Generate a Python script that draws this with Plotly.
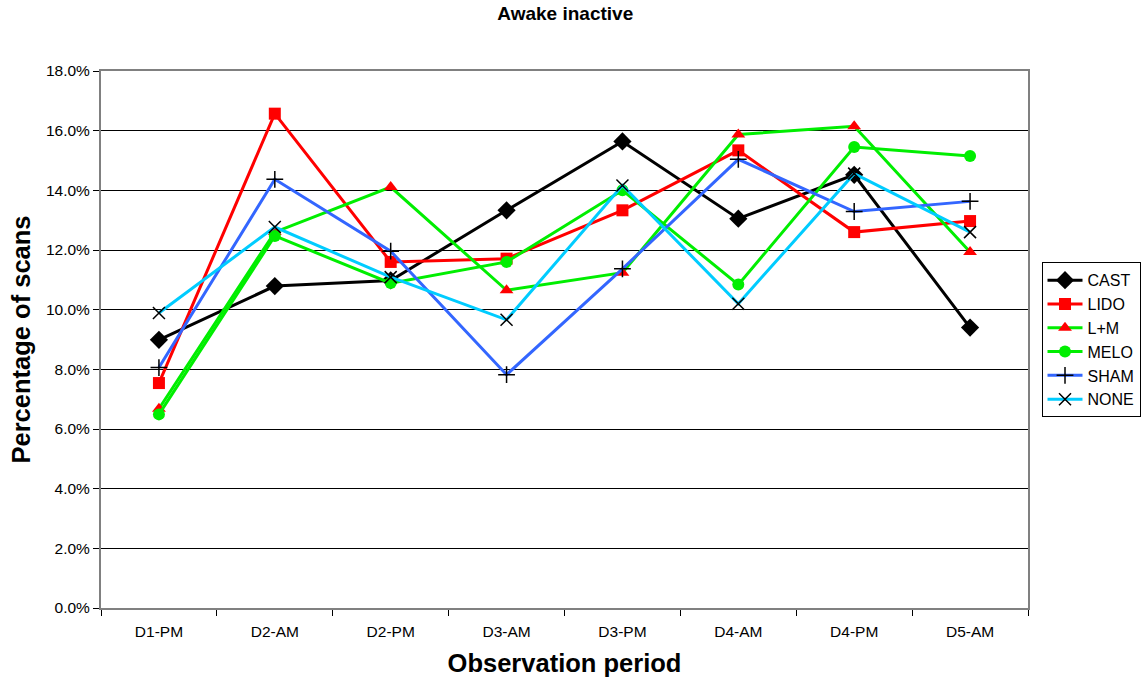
import plotly.graph_objects as go

periods = ["D1-PM", "D2-AM", "D2-PM", "D3-AM", "D3-PM", "D4-AM", "D4-PM", "D5-AM"]

cast = [8.99, 10.79, 10.98, 13.33, 15.64, 13.05, 14.52, 9.40]
lido = [7.54, 16.57, 11.60, 11.71, 13.33, 15.34, 12.60, 12.97]
l_m = [6.68, 12.60, 14.11, 10.65, 11.24, 15.87, 16.15, 11.93]
melo = [6.49, 12.47, 10.89, 11.60, 14.00, 10.84, 15.45, 15.15]
sham = [8.06, 14.37, 11.96, 7.82, 11.37, 15.04, 13.29, 13.63]
none = [9.89, 12.77, 11.09, 9.66, 14.16, 10.20, 14.56, 12.60]

series = [
    ("CAST", cast, "#000000", dict(symbol="diamond", size=14, color="#000000")),
    ("LIDO", lido, "#FF0000", dict(symbol="square", size=12, color="#FF0000")),
    ("L+M", l_m, "#00EE00", dict(symbol="triangle-up", size=12, color="#FF0000")),
    ("MELO", melo, "#00EE00", dict(symbol="circle", size=12, color="#00EE00")),
    ("SHAM", sham, "#3366FF", dict(symbol="cross-thin", size=12, color="#000000",
                                   line=dict(color="#000000", width=1.5))),
    ("NONE", none, "#00CCFF", dict(symbol="x-thin", size=12, color="#000000",
                                   line=dict(color="#000000", width=1.5))),
]

fig = go.Figure()
for name, vals, lc, mk in series:
    fig.add_trace(go.Scatter(
        x=periods, y=[v / 100 for v in vals], name=name, mode="lines+markers",
        line=dict(color=lc, width=3), marker=mk,
    ))

font_family = "Arial, Liberation Sans, sans-serif"

fig.update_layout(
    width=1142, height=683,
    margin=dict(l=101, r=114, t=71, b=75, autoexpand=False),
    paper_bgcolor="white", plot_bgcolor="white",
    font=dict(family=font_family, size=15.5, color="#000000"),
    title=dict(text="<b>Awake inactive</b>", x=0.495, xanchor="center",
               y=0.99, yanchor="top", font=dict(size=19)),
    showlegend=True,
    legend=dict(xref="container", yref="container", x=0.912, y=0.616,
                xanchor="left", yanchor="top",
                bordercolor="#000000", borderwidth=1, bgcolor="white",
                font=dict(size=16), itemwidth=35),
    xaxis=dict(
        type="category", range=[-0.5, 7.5],
        showline=True, linecolor="#808080", linewidth=2, mirror=True,
        ticks="outside", tickson="boundaries", ticklen=6, tickcolor="#000000",
        showgrid=False, tickfont=dict(size=15.5), ticklabelstandoff=8,
        title=dict(text="<b>Observation period</b>", font=dict(size=25.5), standoff=16),
    ),
    yaxis=dict(
        range=[0, 0.18], dtick=0.02, tickformat=".1%",
        showline=True, linecolor="#808080", linewidth=2, mirror=True,
        ticks="outside", ticklen=6, tickcolor="#000000",
        showgrid=True, gridcolor="#000000", gridwidth=1,
        zeroline=False, tickfont=dict(size=15.5),
        title=dict(text="<b>Percentage of scans</b>", font=dict(size=25.5), standoff=8),
    ),
)

fig.write_html("out.html")
